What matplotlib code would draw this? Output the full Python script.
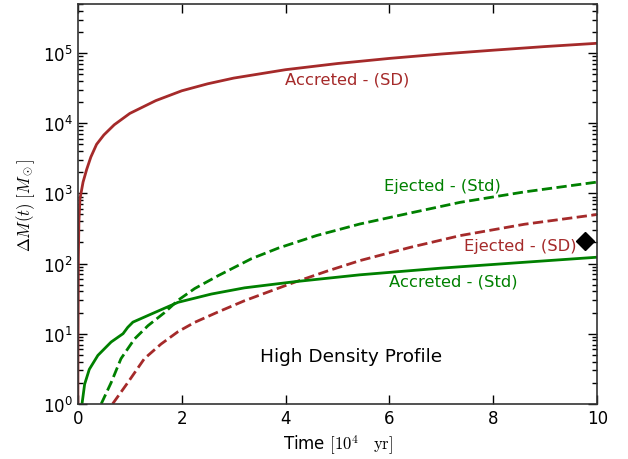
import numpy as np
import matplotlib
matplotlib.use('Agg')
import matplotlib.pyplot as plt

plt.rcParams['mathtext.fontset'] = 'cm'
plt.rcParams['font.family'] = ['DejaVu Sans']

# time in units of 1e4 yr, mass in solar masses
t_acc_sd = [0.0, 0.003, 0.01, 0.02, 0.04, 0.1, 0.17, 0.25, 0.36, 0.5, 0.7, 1.0, 1.5,
            2.0, 2.5, 3.0, 4.0, 5.0, 6.0, 7.0, 8.0, 9.0, 10.0]
m_acc_sd = [1.0, 8.0, 120.0, 400.0, 830.0, 1450.0, 2200.0, 3300.0, 5000.0, 6800.0, 9500.0,
            1.38e4, 2.1e4, 2.9e4, 3.65e4, 4.4e4, 5.8e4, 7.1e4, 8.4e4, 9.7e4, 1.1e5,
            1.24e5, 1.38e5]

t_acc_std = [0.08, 0.13, 0.22, 0.385, 0.64, 0.87, 0.96, 1.06, 1.41, 1.93, 2.57, 3.21,
             4.17, 5.43, 7.0, 8.5, 10.0]
m_acc_std = [1.0, 1.9, 3.1, 4.9, 7.6, 10.0, 12.3, 14.6, 19.0, 28.0, 36.7, 45.0,
             55.0, 69.0, 86.0, 103.0, 123.0]

t_ej_std = [0.45, 0.64, 0.83, 1.09, 1.35, 1.67, 1.93, 2.25, 2.70, 3.34, 3.86, 4.6,
            5.43, 6.4, 7.36, 8.6, 10.0]
m_ej_std = [1.0, 2.0, 4.4, 8.4, 13.0, 20.0, 30.0, 44.0, 67.0, 117.0, 166.0, 251.0,
            366.0, 525.0, 745.0, 1050.0, 1450.0]

t_ej_sd = [0.67, 0.96, 1.28, 1.6, 1.93, 2.25, 2.70, 3.21, 3.73, 4.17, 4.8, 5.43,
           6.4, 7.36, 8.6, 10.0]
m_ej_sd = [1.0, 2.0, 4.4, 7.1, 10.7, 14.5, 20.4, 29.5, 41.0, 54.0, 78.0, 110.0,
           170.0, 250.0, 363.0, 500.0]

diamond_t = [9.77]
diamond_m = [210.0]

fig = plt.figure(figsize=(6.28, 4.6), dpi=100)
ax = fig.add_axes([0.124, 0.120, 0.827, 0.869])

ax.plot(t_acc_sd, m_acc_sd, color='brown', lw=2)
ax.plot(t_ej_sd, m_ej_sd, color='brown', lw=2, ls='--')
ax.plot(t_acc_std, m_acc_std, color='green', lw=2)
ax.plot(t_ej_std, m_ej_std, color='green', lw=2, ls='--')
ax.plot(diamond_t, diamond_m, 'kD', ms=9)

ax.set_yscale('log')
ax.set_xlim(0, 10)
ax.set_ylim(1, 5e5)

ax.text(5.18, 4.3e4, 'Accreted - (SD)', color='brown', fontsize=11.8, ha='center', va='center')
ax.text(7.01, 1.3e3, 'Ejected - (Std)', color='green', fontsize=11.8, ha='center', va='center')
ax.text(8.52, 178, 'Ejected - (SD)', color='brown', fontsize=11.8, ha='center', va='center')
ax.text(7.23, 56, 'Accreted - (Std)', color='green', fontsize=11.8, ha='center', va='center')
ax.text(5.26, 4.8, 'High Density Profile', color='black', fontsize=13.3, ha='center', va='center')

ax.set_xlabel(r'Time $[10^4\ \ \ \rm{yr}]$', fontsize=12)
ax.set_ylabel(r'$\Delta M(t)\ [M_\odot]$', fontsize=12)

ax.tick_params(which='both', direction='in', top=True, right=True, labelsize=12)
ax.tick_params(which='major', length=6.5, width=1)
ax.tick_params(which='minor', length=3.5, width=1)
for s in ax.spines.values():
    s.set_color('#333333')
    s.set_linewidth(1.2)

fig.savefig('out.png', dpi=100)
